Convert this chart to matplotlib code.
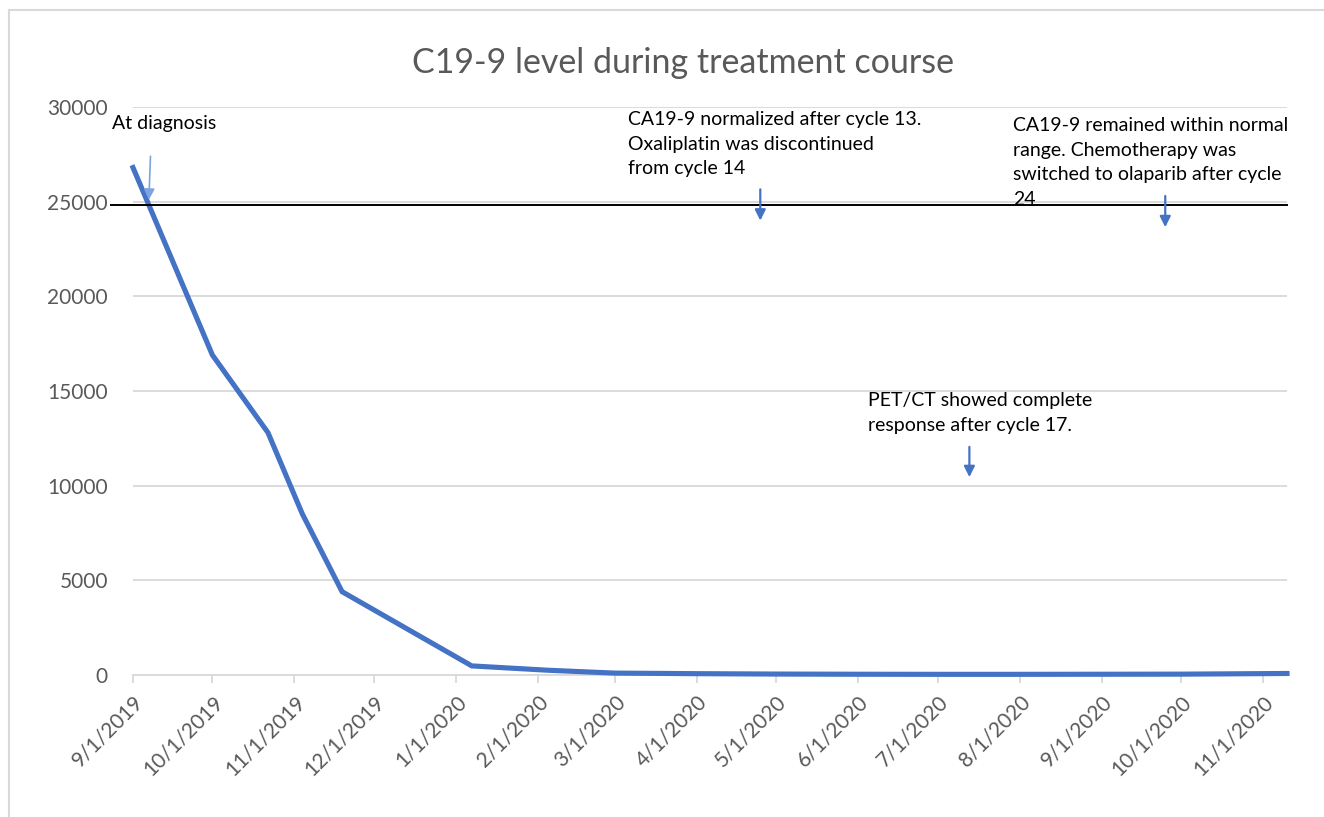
import matplotlib.pyplot as plt
import matplotlib.dates as mdates
import matplotlib.transforms as mtransforms
import numpy as np
import pandas as pd

# CA19-9 readings
dates = pd.to_datetime(['2019-09-01', '2019-10-01', '2019-10-22', '2019-11-04', '2019-11-19',
                        '2020-01-07', '2020-02-05', '2020-03-01', '2020-04-01', '2020-05-01',
                        '2020-06-01', '2020-07-01', '2020-08-01', '2020-09-01', '2020-10-01',
                        '2020-11-10'])
values = [26800, 16900, 12800, 8500, 4400,
          480, 250, 100, 70, 50,
          40, 35, 35, 40, 45,
          80]

ticks = pd.date_range('2019-09-01', '2020-11-01', freq='MS')
yticks = np.arange(0, 30001, 5000)
ref_level = 24830

notes = [
    ('At diagnosis', '2019-09-07', 27400, 25100),
    ('CA19-9 normalized after cycle 13.\nOxaliplatin was discontinued\nfrom cycle 14', '2020-04-25', 25650, 24000),
    ('CA19-9 remained within normal\nrange. Chemotherapy was\nswitched to olaparib after cycle\n24', '2020-09-25', 25300, 23650),
    ('PET/CT showed complete\nresponse after cycle 17.', '2020-07-13', 12050, 10450),
]
note_pos = [(112, 124), (628, 111), (1013, 117), (868, 392)]  # text anchors in px

plt.rcParams['font.family'] = ['Lato', 'DejaVu Sans']

W, H = 1324, 817
fig = plt.figure(figsize=(W / 100, H / 100), dpi=100)
ax = fig.add_axes([133 / W, 1 - 675 / H, (1287 - 133) / W, (675 - 107) / H])

blue = '#4472C4'
grey = '#595959'
grid = '#d9d9d9'

ax.plot(dates, values, color=blue, lw=3.7, solid_joinstyle='miter', zorder=3, clip_on=False)

ax.set_xlim(pd.Timestamp('2019-09-01'), pd.Timestamp('2020-11-10'))
ax.set_ylim(0, 30000)
ax.set_yticks(yticks)
ax.set_yticklabels([str(v) for v in yticks], fontsize=15, color=grey)
ax.set_xticks(ticks)
ax.xaxis.set_major_formatter(mdates.DateFormatter('%-m/%-d/%Y'))
for lab in ax.get_xticklabels():
    lab.set_rotation(45)
    lab.set_ha('right')
    lab.set_rotation_mode('anchor')
    lab.set_fontsize(15)
    lab.set_color(grey)

ax.grid(axis='y', color=grid, lw=1.3)
ax.set_axisbelow(True)
for s in ['top', 'right', 'left']:
    ax.spines[s].set_visible(False)
ax.spines['bottom'].set_color(grid)
ax.spines['bottom'].set_linewidth(1.3)
ax.tick_params(axis='y', length=0, pad=18)
ax.tick_params(axis='x', length=6, width=1.3, color=grid, pad=6)

# drawn reference line
trans = mtransforms.blended_transform_factory(ax.transAxes, ax.transData)
ax.plot([-0.019, 1.0], [ref_level, ref_level], color='black', lw=1.4,
        transform=trans, clip_on=False, zorder=4)

for i, (txt, d, y0, y1) in enumerate(notes):
    x = mdates.date2num(pd.Timestamp(d))
    c = '#7fa3e0' if i == 0 else blue
    ax.annotate('', xy=(x, y1), xytext=(x + (0.6 if i == 0 else 0), y0),
                arrowprops=dict(arrowstyle='-|>', color=c, lw=1.2 if i == 0 else 1.6,
                                mutation_scale=16, shrinkA=0, shrinkB=0), zorder=5)
    px, py = note_pos[i]
    fig.text(px / W, 1 - py / H, txt, fontsize=14, color='black', ha='left',
             va='center' if i == 0 else 'top', linespacing=1.55)

fig.text(683 / W, 1 - 63 / H, 'C19-9 level during treatment course', fontsize=24.5, color=grey,
         ha='center', va='center')

# chart frame
fig.add_artist(plt.Line2D([9 / W, 1], [1 - 10 / H, 1 - 10 / H], color=grid, lw=1.5))
fig.add_artist(plt.Line2D([9 / W, 9 / W], [0, 1 - 10 / H], color=grid, lw=1.5))

fig.savefig('out.png', dpi=100)
